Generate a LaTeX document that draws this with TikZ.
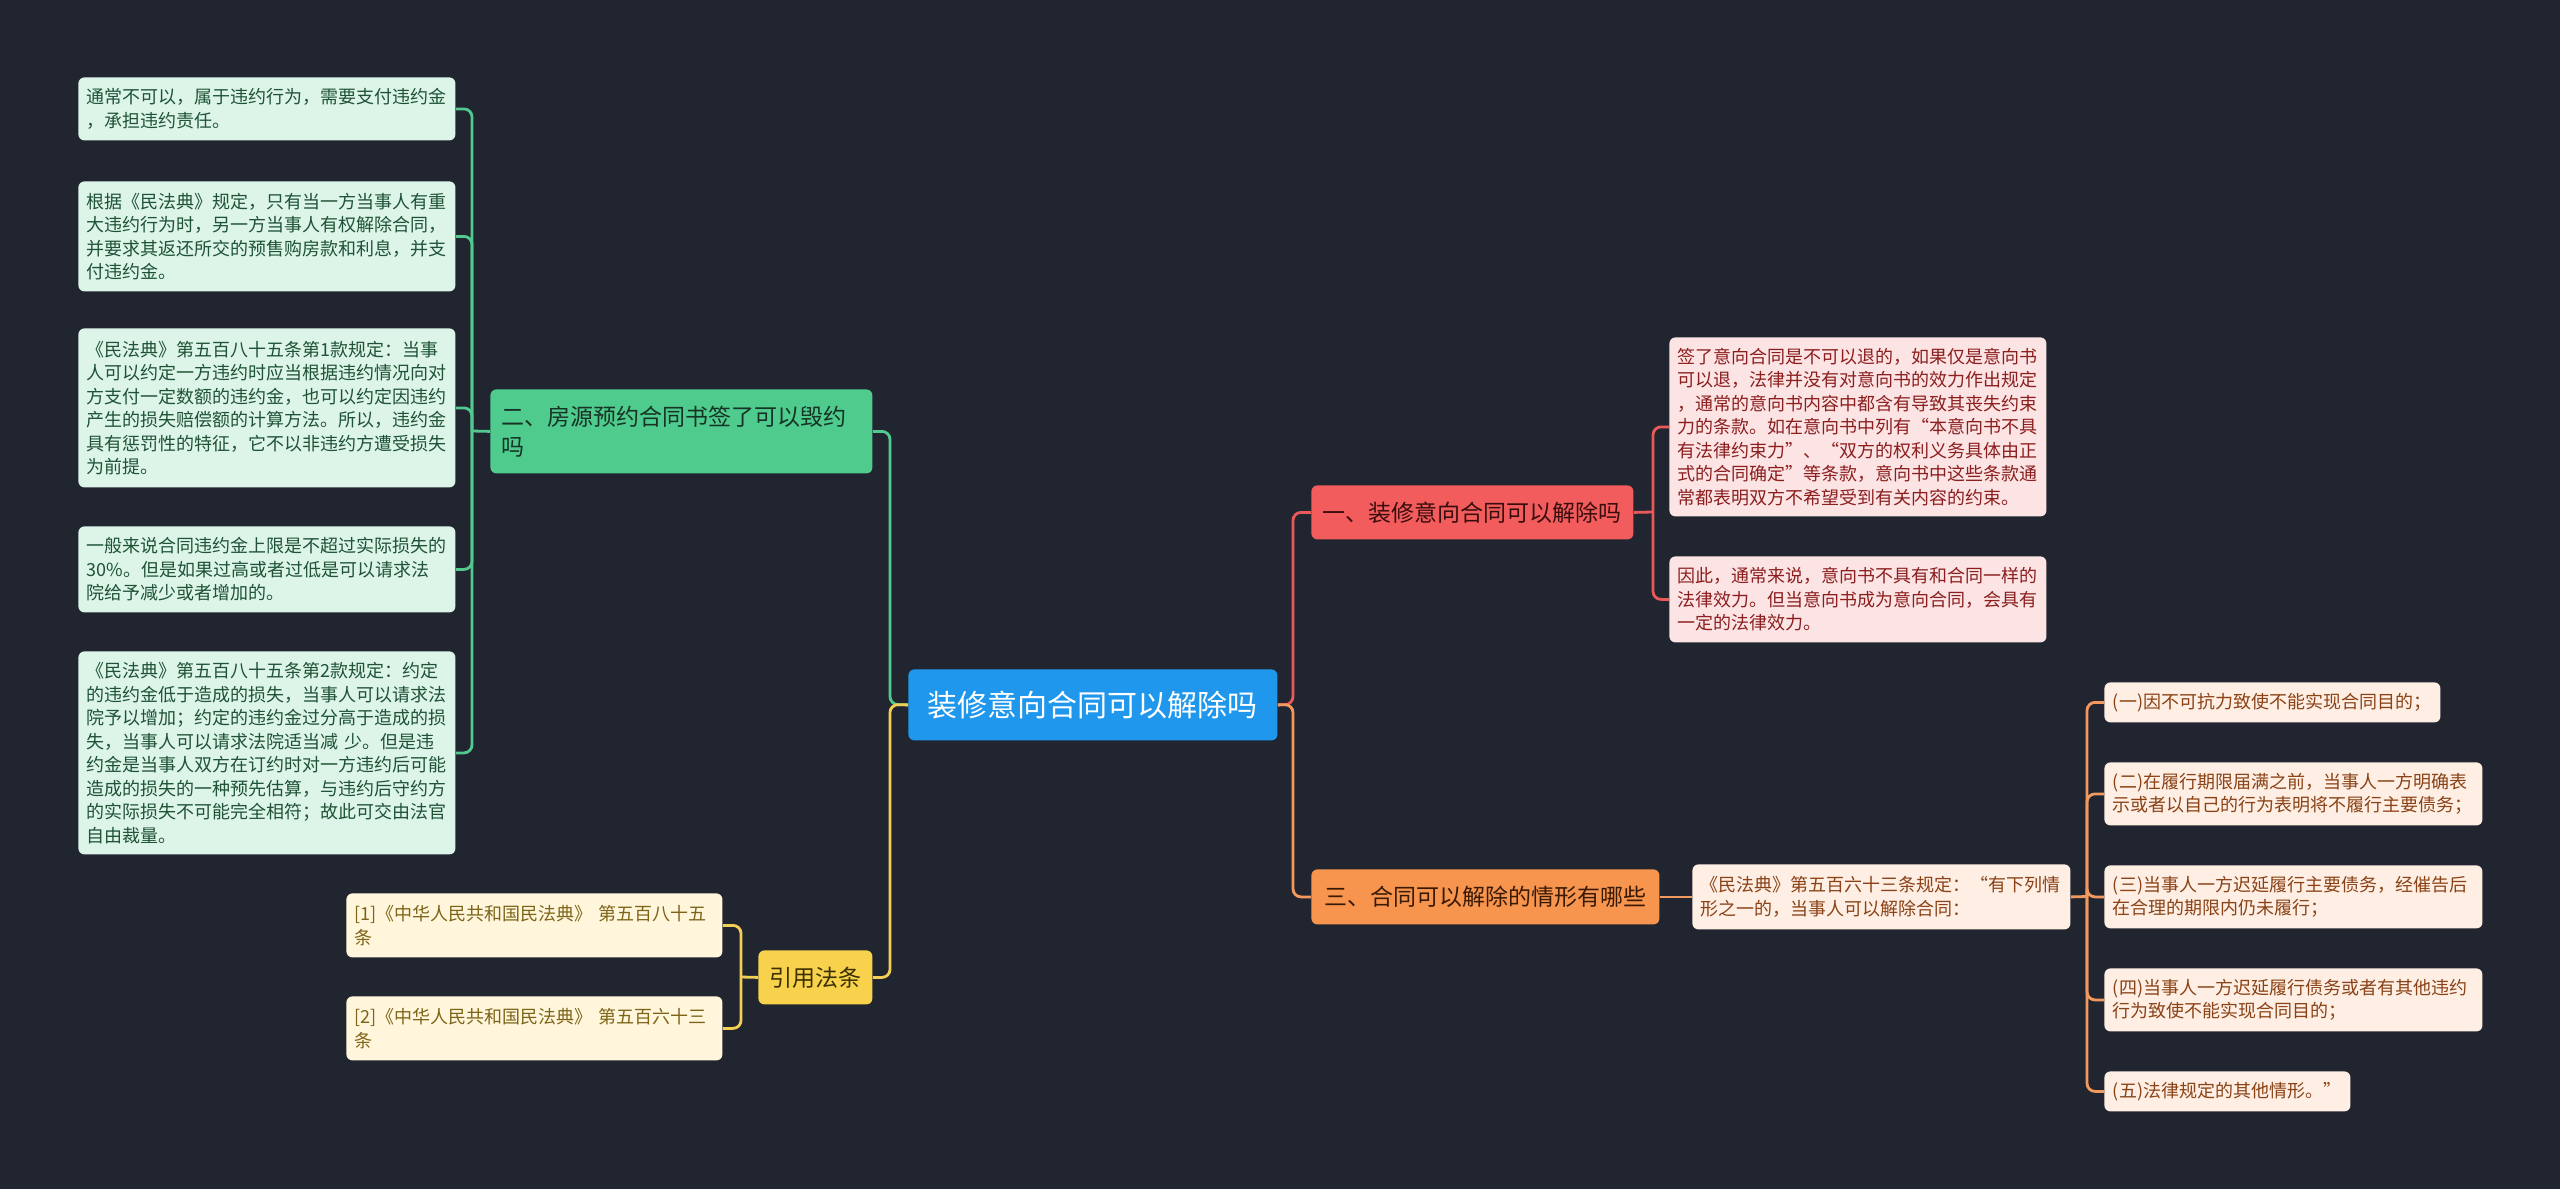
\documentclass[tikz,border=0pt]{standalone}
\usepackage{fontspec}
\newfontfamily\cjk{Noto Sans CJK SC}
\definecolor{bgc}{HTML}{212530}
\definecolor{gleafc}{HTML}{DCF5E8}
\definecolor{gtext}{HTML}{1F5236}
\definecolor{gnode}{HTML}{4ECB8D}
\definecolor{gnodet}{HTML}{163325}
\definecolor{glinec}{HTML}{52C98E}
\definecolor{cnode}{HTML}{1F97EC}
\definecolor{rnode}{HTML}{F25C5C}
\definecolor{rnodet}{HTML}{3A0D0D}
\definecolor{rleafc}{HTML}{FDE4E4}
\definecolor{rtext}{HTML}{8B1E1E}
\definecolor{rlinec}{HTML}{E85A5A}
\definecolor{onode}{HTML}{F7954F}
\definecolor{onodet}{HTML}{3A1A05}
\definecolor{oleafc}{HTML}{FEEEE3}
\definecolor{otext}{HTML}{8A4216}
\definecolor{olinec}{HTML}{F29A5E}
\definecolor{ynode}{HTML}{F8D24C}
\definecolor{ynodet}{HTML}{3B3000}
\definecolor{yleafc}{HTML}{FFF6DC}
\definecolor{ytext}{HTML}{7D6418}
\definecolor{ylinec}{HTML}{F3CF55}
\begin{document}
\begin{tikzpicture}[x=0.5pt,y=-0.5pt,
  leaf/.style={rounded corners=3pt, anchor=north west, inner xsep=4.25pt, inner ysep=0pt, align=left, font=\cjk\fontsize{9pt}{11.75pt}\selectfont},
  gleaf/.style={leaf, fill=gleafc, text=gtext},
  rleaf/.style={leaf, fill=rleafc, text=rtext},
  oleaf/.style={leaf, fill=oleafc, text=otext},
  yleaf/.style={leaf, fill=yleafc, text=ytext},
  mainnode/.style={rounded corners=3pt, anchor=north west, inner sep=0pt, align=center, font=\cjk\fontsize{11.5pt}{15pt}\selectfont},
  conn/.style={line width=1.4pt, rounded corners=4pt},
  gline/.style={conn, draw=glinec},
  rline/.style={conn, draw=rlinec},
  oline/.style={conn, draw=olinec},
  yline/.style={conn, draw=ylinec}]
\useasboundingbox (0,0) rectangle (2560,1189);
\fill[bgc] (0,0) rectangle (2560,1189);

% left green leaves
\node[gleaf, text width=180pt, minimum height=31.5pt] (l1) at (78,77) {通常不可以，属于违约行为，需要支付违约金\\，承担违约责任。};
\node[gleaf, text width=180pt, minimum height=55pt] (l2) at (78,181) {根据《民法典》规定，只有当一方当事人有重\\大违约行为时，另一方当事人有权解除合同，\\并要求其返还所交的预售购房款和利息，并支\\付违约金。};
\node[gleaf, text width=180pt, minimum height=79.5pt] (l3) at (78,328) {《民法典》第五百八十五条第1款规定：当事\\人可以约定一方违约时应当根据违约情况向对\\方支付一定数额的违约金，也可以约定因违约\\产生的损失赔偿额的计算方法。所以，违约金\\具有惩罚性的特征，它不以非违约方遭受损失\\为前提。};
\node[gleaf, text width=180pt, minimum height=43pt] (l4) at (78,526) {一般来说合同违约金上限是不超过实际损失的\\30\%。但是如果过高或者过低是可以请求法\\院给予减少或者增加的。};
\node[gleaf, text width=180pt, minimum height=101.5pt] (l5) at (78,651) {《民法典》第五百八十五条第2款规定：约定\\的违约金低于造成的损失，当事人可以请求法\\院予以增加；约定的违约金过分高于造成的损\\失，当事人可以请求法院适当减 少。但是违\\约金是当事人双方在订约时对一方违约后可能\\造成的损失的一种预先估算，与违约后守约方\\的实际损失不可能完全相符；故此可交由法官\\自由裁量。};

% green main node
\node[mainnode, fill=gnode, text=gnodet, align=left, inner xsep=5.5pt, text width=180pt, minimum height=42pt] (g) at (490,389) {二、房源预约合同书签了可以毁约\\吗};

% center
\node[mainnode, fill=cnode, text=white, minimum width=184.5pt, minimum height=35.5pt, font=\cjk\fontsize{15pt}{18pt}\selectfont] (c) at (908,669) {装修意向合同可以解除吗};

% yellow
\node[mainnode, fill=ynode, text=ynodet, minimum width=57pt, minimum height=27pt] (y) at (758,950) {引用法条};
\node[yleaf, inner xsep=4pt, text width=180pt, minimum height=32pt] (y1) at (346,893) {[1]《中华人民共和国民法典》 第五百八十五\\条};
\node[yleaf, inner xsep=4pt, text width=180pt, minimum height=32pt] (y2) at (346,996) {[2]《中华人民共和国民法典》 第五百六十三\\条};

% red
\node[mainnode, fill=rnode, text=rnodet, minimum width=161pt, minimum height=27pt] (r) at (1311,485) {一、装修意向合同可以解除吗};
\node[rleaf, text width=180pt, minimum height=89.5pt] (r1) at (1669,337) {签了意向合同是不可以退的，如果仅是意向书\\可以退，法律并没有对意向书的效力作出规定\\，通常的意向书内容中都含有导致其丧失约束\\力的条款。如在意向书中列有“本意向书不具\\有法律约束力”、“双方的权利义务具体由正\\式的合同确定”等条款，意向书中这些条款通\\常都表明双方不希望受到有关内容的约束。};
\node[rleaf, text width=180pt, minimum height=43pt] (r2) at (1669,556) {因此，通常来说，意向书不具有和合同一样的\\法律效力。但当意向书成为意向合同，会具有\\一定的法律效力。};

% orange
\node[mainnode, fill=onode, text=onodet, minimum width=174pt, minimum height=27.5pt] (o) at (1311,869) {三、合同可以解除的情形有哪些};
\node[oleaf, text width=180.5pt, minimum height=32.5pt] (m) at (1692,864) {《民法典》第五百六十三条规定：“有下列情\\形之一的，当事人可以解除合同：};
\node[oleaf, text width=159.5pt, minimum height=20pt] (o1) at (2104,682) {(一)因不可抗力致使不能实现合同目的；};
\node[oleaf, text width=180.5pt, minimum height=31.5pt] (o2) at (2104,762) {(二)在履行期限届满之前，当事人一方明确表\\示或者以自己的行为表明将不履行主要债务；};
\node[oleaf, text width=180.5pt, minimum height=31.5pt] (o3) at (2104,865) {(三)当事人一方迟延履行主要债务，经催告后\\在合理的期限内仍未履行；};
\node[oleaf, text width=180.5pt, minimum height=31.5pt] (o4) at (2104,968) {(四)当事人一方迟延履行债务或者有其他违约\\行为致使不能实现合同目的；};
\node[oleaf, text width=114.5pt, minimum height=20pt] (o5) at (2104,1071) {(五)法律规定的其他情形。”};

% junction coordinates
\coordinate (gj) at (472,431);
\coordinate (cl) at (890,704.5);
\coordinate (cr) at (1293,704.5);
\coordinate (yj) at (741,977);
\coordinate (rj) at (1653,512);
\coordinate (mj) at (2087,896.5);

% connectors
\draw[gline] (g.west) -- (gj);
\foreach \n in {l1,l2,l3,l4,l5} \draw[gline] (gj) |- (\n.east);
\draw[gline] (c.west) -- (cl) |- (g.east);
\draw[yline] (c.west) -- (cl) |- (y.east);
\draw[yline] (y.west) -- (yj);
\foreach \n in {y1,y2} \draw[yline] (yj) |- (\n.east);
\draw[rline] (c.east) -- (cr) |- (r.west);
\draw[oline] (c.east) -- (cr) |- (o.west);
\draw[rline] (r.east) -- (rj);
\foreach \n in {r1,r2} \draw[rline] (rj) |- (\n.west);
\draw[oline] (o.east) -- (m.west);
\draw[oline] (m.east) -- (mj);
\foreach \n in {o1,o2,o3,o4,o5} \draw[oline] (mj) |- (\n.west);
\end{tikzpicture}
\end{document}
